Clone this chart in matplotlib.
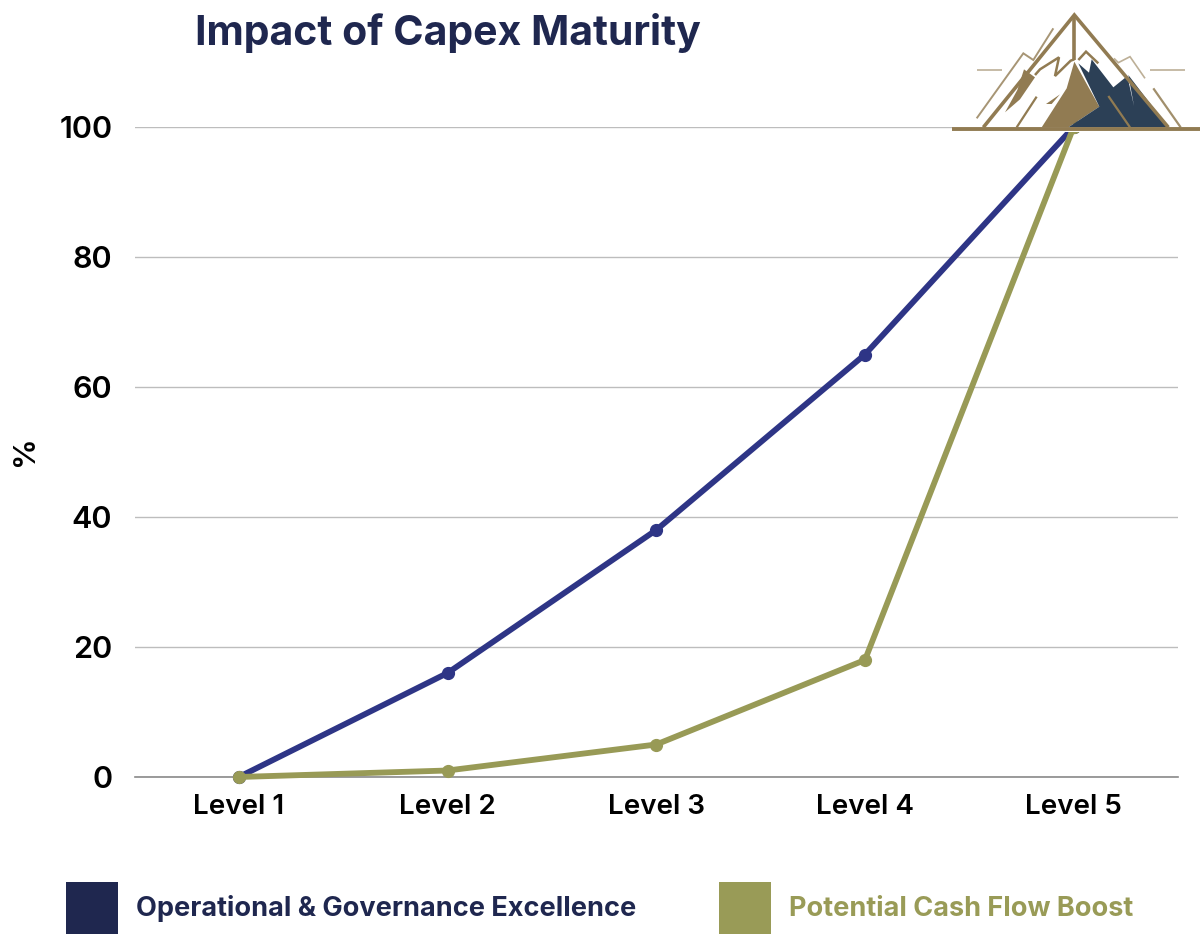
import matplotlib
matplotlib.use("Agg")
import matplotlib.pyplot as plt
from matplotlib.patches import Polygon, Rectangle

categories = ["Level 1", "Level 2", "Level 3", "Level 4", "Level 5"]
operational = [0, 16, 38, 65, 100]
cash_flow = [0, 1, 5, 18, 100]
y_ticks = [0, 20, 40, 60, 80, 100]
title = "Impact of Capex Maturity"
legend_labels = ["Operational & Governance Excellence", "Potential Cash Flow Boost"]

NAVY = "#2E3586"
OLIVE = "#989A56"
LEG_NAVY = "#1F274F"
TAN = "#917B52"
LOGO_BLUE = "#2C4056"

W, H = 1200, 934
plt.rcParams["font.family"] = ["Inter", "DejaVu Sans"]
fig = plt.figure(figsize=(W / 100, H / 100), dpi=100, facecolor="white")

ax = fig.add_axes([134.5 / W, 1 - 777 / H, (1178 - 134.5) / W, 650 / H])
ax.set_xlim(-0.5, 4.5)
ax.set_ylim(0, 100)
ax.patch.set_alpha(0)
for s in ("top", "left", "right"):
    ax.spines[s].set_visible(False)
ax.spines["bottom"].set_color("#8A8A8A")
ax.spines["bottom"].set_linewidth(1.2)
ax.set_yticks(y_ticks)
ax.set_xticks(range(len(categories)))
ax.set_xticklabels(categories)
ax.tick_params(axis="both", length=0)
ax.tick_params(axis="x", labelsize=20, pad=12)
ax.tick_params(axis="y", labelsize=22, pad=16)
for lab in ax.get_xticklabels() + ax.get_yticklabels():
    lab.set_fontweight("semibold")
    lab.set_color("black")
ax.grid(axis="y", color="#BDBDBD", linewidth=1)
ax.set_axisbelow(True)
ax.plot(categories, operational, color=NAVY, lw=4.2, marker="o", ms=8.5, clip_on=False, zorder=3)
ax.plot(categories, cash_flow, color=OLIVE, lw=4.2, marker="o", ms=8.5, clip_on=False, zorder=4)

# overlay in pixel coordinates for layout items
ov = fig.add_axes([0, 0, 1, 1])
ov.set_xlim(0, W)
ov.set_ylim(H, 0)
ov.axis("off")
ov.patch.set_alpha(0)

ov.text(195, 33, title, fontsize=29.5, fontweight="bold", color=LEG_NAVY, va="center", ha="left")
ov.text(25, 451, "%", fontsize=22, fontweight="semibold", rotation=90, va="center", ha="center", color="black")

ov.add_patch(Rectangle((66, 882), 52, 52, color=LEG_NAVY, lw=0))
ov.add_patch(Rectangle((719, 882), 52, 52, color="#999B57", lw=0))
ov.text(136, 909, legend_labels[0], fontsize=19.5, fontweight="bold", color=LEG_NAVY, va="center")
ov.text(789, 909, legend_labels[1], fontsize=19.5, fontweight="bold", color="#999B57", va="center")


# logo: shapes given in the zoomed logo frame
def P(pts):
    return [(940 + x / 3, y / 3) for x, y in pts]


def fill(pts, c, z=6):
    ov.add_patch(Polygon(P(pts), closed=True, facecolor=c, edgecolor="none", zorder=z))


def line(pts, lw=2.2, c=TAN, a=1.0):
    xs, ys = zip(*P(pts))
    ov.plot(xs, ys, color=c, lw=lw, alpha=a, solid_capstyle="butt", solid_joinstyle="miter", zorder=7)


fill([(35, 372), (780, 372), (780, 395), (35, 395)], "white", 5)
fill([(403, 185), (478, 320), (385, 382), (305, 382), (380, 265)], TAN)
fill([(415, 190), (447, 218), (455, 178), (520, 262), (562, 228), (582, 318), (565, 225), (685, 382),
      (385, 382), (478, 320)], LOGO_BLUE)
fill([(252, 208), (285, 232), (240, 298), (195, 337), (232, 270)], TAN)
fill([(360, 283), (335, 312), (318, 312)], TAN)
line([(130, 382), (403, 45), (685, 382)], lw=2.6)
line([(403, 45), (403, 180)], lw=2.6)
line([(290, 290), (230, 382)], lw=1.6)
line([(505, 288), (570, 382)], lw=1.6, c="#917B52")
line([(285, 225), (300, 208), (357, 172), (345, 228), (392, 182), (403, 178)], lw=1.8)
line([(415, 180), (438, 155), (475, 190)], lw=1.8)
line([(110, 355), (250, 160), (280, 180), (340, 85)], lw=1.4, a=.8)
line([(522, 175), (535, 188), (570, 170), (615, 235)], lw=1.2, a=.6)
line([(640, 265), (722, 382)], lw=1.6, a=.85)
line([(110, 210), (185, 210)], lw=1.2, a=.6)
line([(630, 210), (735, 210)], lw=1.2, a=.6)
line([(35, 387), (780, 387)], lw=2.8)

fig.savefig("out.png", dpi=100, facecolor="white")
